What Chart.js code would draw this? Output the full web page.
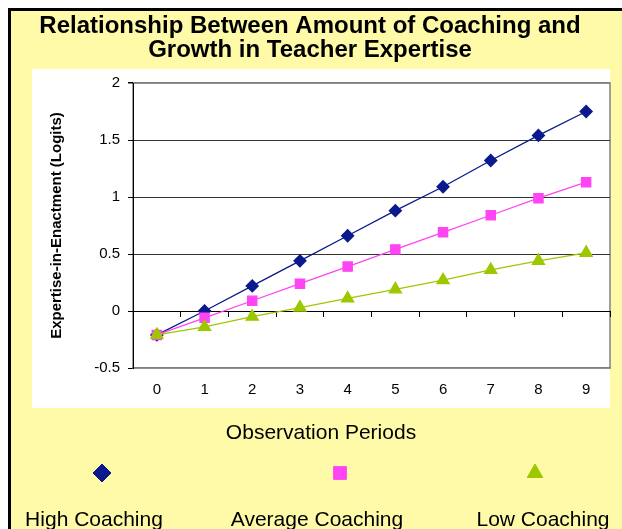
<!DOCTYPE html>
<html>
<head>
<meta charset="utf-8">
<title>Coaching and Teacher Expertise</title>
<script src="https://cdn.jsdelivr.net/npm/chart.js@4.4.0/dist/chart.umd.min.js"></script>
<style>
  html, body { margin: 0; background: #fff; overflow: hidden; }
  canvas { display: block; }
</style>
</head>
<body>
<canvas id="lineChart" width="622" height="529"></canvas>
<script>
// data
var periods = ["0", "1", "2", "3", "4", "5", "6", "7", "8", "9"];
var seriesNames = ["High Coaching", "Average Coaching", "Low Coaching"];
var highCoaching = [-0.21, 0.00, 0.22, 0.44, 0.66, 0.88, 1.09, 1.32, 1.54, 1.75];
var averageCoaching = [-0.21, -0.06, 0.09, 0.24, 0.39, 0.54, 0.69, 0.84, 0.99, 1.13];
var lowCoaching = [-0.21, -0.14, -0.05, 0.03, 0.11, 0.19, 0.27, 0.36, 0.44, 0.51];
var yMin = -0.5, yMax = 2, yStep = 0.5;

var YELLOW = '#fffaa8';
var FONT = "'Liberation Sans', Arial, sans-serif";
Chart.defaults.font.family = FONT;
Chart.defaults.color = '#000';

// yellow sheet, black edge, white panel, grey plot frame
var backdrop = {
  id: 'backdrop',
  beforeDraw: function (chart) {
    var ctx = chart.ctx, a = chart.chartArea;
    ctx.save();
    ctx.fillStyle = '#fff';
    ctx.fillRect(0, 0, chart.width, chart.height);
    ctx.fillStyle = YELLOW;
    ctx.fillRect(8, 8, chart.width - 8, chart.height - 8);
    ctx.fillStyle = '#000';
    ctx.fillRect(8, 8, chart.width - 8, 3);
    ctx.fillRect(8, 8, 3, chart.height - 8);
    ctx.fillStyle = '#fff';
    ctx.fillRect(32, 69, a.right - 32, 339);
    ctx.strokeStyle = '#808080';
    ctx.lineWidth = 1.5;
    ctx.strokeRect(a.left, a.top, a.right - a.left, a.bottom - a.top);
    ctx.restore();
  }
};

// x title and legend sit in the yellow band under the panel
var markerLegend = {
  id: 'markerLegend',
  afterDraw: function (chart) {
    var ctx = chart.ctx;
    var markX = [102, 340, 535];
    var textX = [94, 317, 543];
    ctx.save();
    ctx.fillStyle = '#000';
    ctx.font = '21px ' + FONT;
    ctx.textAlign = 'center';
    ctx.textBaseline = 'middle';
    ctx.fillText('Observation Periods', 321, 433);
    chart.data.datasets.forEach(function (ds, i) {
      ctx.fillStyle = ds.pointBackgroundColor;
      ctx.strokeStyle = ds.pointBackgroundColor;
      Chart.helpers.drawPoint(ctx, {pointStyle: ds.pointStyle, radius: 9, borderWidth: 1, rotation: 0}, markX[i], 473);
      ctx.fillStyle = '#000';
      ctx.font = '21px ' + FONT;
      ctx.textAlign = 'center';
      ctx.textBaseline = 'alphabetic';
      ctx.fillText(ds.label, textX[i], 526);
    });
    ctx.restore();
  }
};

var ctxL = document.getElementById("lineChart").getContext('2d');
var myLineChart = new Chart(ctxL, {
  type: 'line',
  data: {
    labels: periods,
    datasets: [{
      label: seriesNames[0],
      data: highCoaching,
      borderColor: '#0a1a8c',
      borderWidth: 1.3,
      pointStyle: 'rectRot',
      pointRadius: 6,
      pointBackgroundColor: '#0a1a8c',
      pointBorderColor: '#0a1a8c',
      order: 3
    }, {
      label: seriesNames[1],
      data: averageCoaching,
      borderColor: '#ff44f4',
      borderWidth: 1.3,
      pointStyle: 'rect',
      pointRadius: 6.5,
      pointBackgroundColor: '#ff44f4',
      pointBorderColor: '#ff44f4',
      order: 2
    }, {
      label: seriesNames[2],
      data: lowCoaching,
      borderColor: '#9dc800',
      borderWidth: 1.3,
      pointStyle: 'triangle',
      pointRadius: 7,
      pointBackgroundColor: '#9dc800',
      pointBorderColor: '#9dc800',
      order: 1
    }]
  },
  options: {
    responsive: false,
    animation: false,
    layout: { padding: { left: 10, right: 12, top: 0, bottom: 0 } },
    plugins: {
      legend: { display: false },
      tooltip: { enabled: false },
      title: {
        display: true,
        text: ['Relationship Between Amount of Coaching and', 'Growth in Teacher Expertise'],
        font: { size: 24, weight: 'bold', lineHeight: 1.0 },
        color: '#000',
        padding: { top: 14, bottom: 21 }
      }
    },
    scales: {
      x: {
        offset: true,
        grid: { display: false, drawTicks: false },
        border: { display: true, color: '#808080', width: 1.5 },
        ticks: { font: { size: 15 }, padding: 13, maxRotation: 0 },
        afterFit: function (scale) { scale.height = 161; }
      },
      // zero line with its downward ticks
      x2: {
        type: 'category',
        axis: 'x',
        labels: periods,
        position: { y: 0 },
        offset: true,
        grid: { offset: true, drawOnChartArea: false, drawTicks: true, tickLength: 5, color: '#000', tickColor: '#000' },
        border: { display: true, color: '#000', width: 1 },
        ticks: { display: false }
      },
      y: {
        min: yMin,
        max: yMax,
        ticks: {
          stepSize: yStep,
          font: { size: 15 },
          padding: 8,
          callback: function (v) { return String(v); }
        },
        grid: {
          tickLength: 5,
          tickColor: '#000',
          color: function (c) {
            if (c.tick.value === yMax) return '#808080';
            if (c.tick.value === yMin || c.tick.value === 0) return 'rgba(0,0,0,0)';
            return '#333';
          },
          lineWidth: function (c) { return c.tick.value === yMax ? 1.5 : 1; }
        },
        border: { color: '#000', width: 1 },
        title: {
          display: true,
          text: 'Expertise-in-Enactment (Logits)',
          font: { size: 15, weight: 'bold', lineHeight: 1.2 },
          padding: { top: 38 }
        },
        afterFit: function (scale) { scale.width = 123; }
      }
    }
  },
  plugins: [backdrop, markerLegend]
});
</script>
</body>
</html>
